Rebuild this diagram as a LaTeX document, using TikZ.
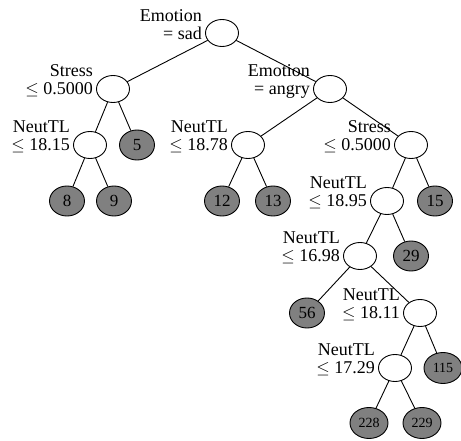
\documentclass[tikz,border=0pt]{standalone}
\usepackage{fontspec}
\setmainfont{Liberation Serif}
\usetikzlibrary{shapes.geometric}
\begin{document}
\begin{tikzpicture}[x=1pt,y=-1pt,
  inner/.style={ellipse,draw,line width=0.9pt,fill=white,minimum width=33pt,minimum height=27pt,inner sep=0pt},
  leaf/.style={ellipse,draw,line width=0.9pt,fill=black!50,minimum width=35pt,minimum height=30pt,inner sep=0pt,font=\fontsize{17}{17}\selectfont},
  bigleaf/.style={leaf,minimum width=38pt,minimum height=31pt,font=\fontsize{14}{14}\selectfont},
  lbl/.style={anchor=east,align=right,inner sep=1pt,font=\fontsize{18}{18}\selectfont},
  edge/.style={line width=0.9pt}]
\useasboundingbox (0,0) rectangle (461,441);
% nodes
\node[inner] (root) at (222,33) {};
\node[inner] (s1) at (113,89) {};
\node[inner] (e2) at (330,89) {};
\node[inner] (n3) at (90,145) {};
\node[leaf] (l5) at (137,145) {5};
\node[inner] (n4) at (248,145) {};
\node[inner] (s5) at (411,145) {};
\node[leaf] (l8) at (67,201) {8};
\node[leaf] (l9) at (114,201) {9};
\node[leaf] (l12) at (222,201) {12};
\node[leaf] (l13) at (273,201) {13};
\node[inner] (n6) at (387,201) {};
\node[leaf] (l15) at (435,201) {15};
\node[inner] (n7) at (360,256) {};
\node[leaf] (l29) at (411,256) {29};
\node[leaf] (l56) at (307,313) {56};
\node[inner] (n8) at (420,313) {};
\node[inner] (n9) at (395,368) {};
\node[bigleaf] (l115) at (443,368) {115};
\node[bigleaf] (l228) at (369,423) {228};
\node[bigleaf] (l229) at (422,423) {229};
% edges
\draw[edge] (root) -- (s1);
\draw[edge] (root) -- (e2);
\draw[edge] (s1) -- (n3);
\draw[edge] (s1) -- (l5);
\draw[edge] (n3) -- (l8);
\draw[edge] (n3) -- (l9);
\draw[edge] (e2) -- (n4);
\draw[edge] (e2) -- (s5);
\draw[edge] (n4) -- (l12);
\draw[edge] (n4) -- (l13);
\draw[edge] (s5) -- (n6);
\draw[edge] (s5) -- (l15);
\draw[edge] (n6) -- (n7);
\draw[edge] (n6) -- (l29);
\draw[edge] (n7) -- (l56);
\draw[edge] (n7) -- (n8);
\draw[edge] (n8) -- (n9);
\draw[edge] (n8) -- (l115);
\draw[edge] (n9) -- (l228);
\draw[edge] (n9) -- (l229);
% labels
\node[lbl] (troot) at ([xshift=-2pt,yshift=8pt]root.west) {Emotion\\= sad};
\node[lbl] (ts1) at ([xshift=-2pt,yshift=8pt]s1.west) {Stress\\$\leq$ 0.5000};
\node[lbl] (te2) at ([xshift=-2pt,yshift=8pt]e2.west) {Emotion\\= angry};
\node[lbl] (tn3) at ([xshift=-2pt,yshift=8pt]n3.west) {NeutTL\\$\leq$ 18.15};
\node[lbl] (tn4) at ([xshift=-2pt,yshift=8pt]n4.west) {NeutTL\\$\leq$ 18.78};
\node[lbl] (ts5) at ([xshift=-2pt,yshift=8pt]s5.west) {Stress\\$\leq$ 0.5000};
\node[lbl] (tn6) at ([xshift=-2pt,yshift=8pt]n6.west) {NeutTL\\$\leq$ 18.95};
\node[lbl] (tn7) at ([xshift=-2pt,yshift=8pt]n7.west) {NeutTL\\$\leq$ 16.98};
\node[lbl] (tn8) at ([xshift=-2pt,yshift=8pt]n8.west) {NeutTL\\$\leq$ 18.11};
\node[lbl] (tn9) at ([xshift=-2pt,yshift=8pt]n9.west) {NeutTL\\$\leq$ 17.29};
\end{tikzpicture}
\end{document}
